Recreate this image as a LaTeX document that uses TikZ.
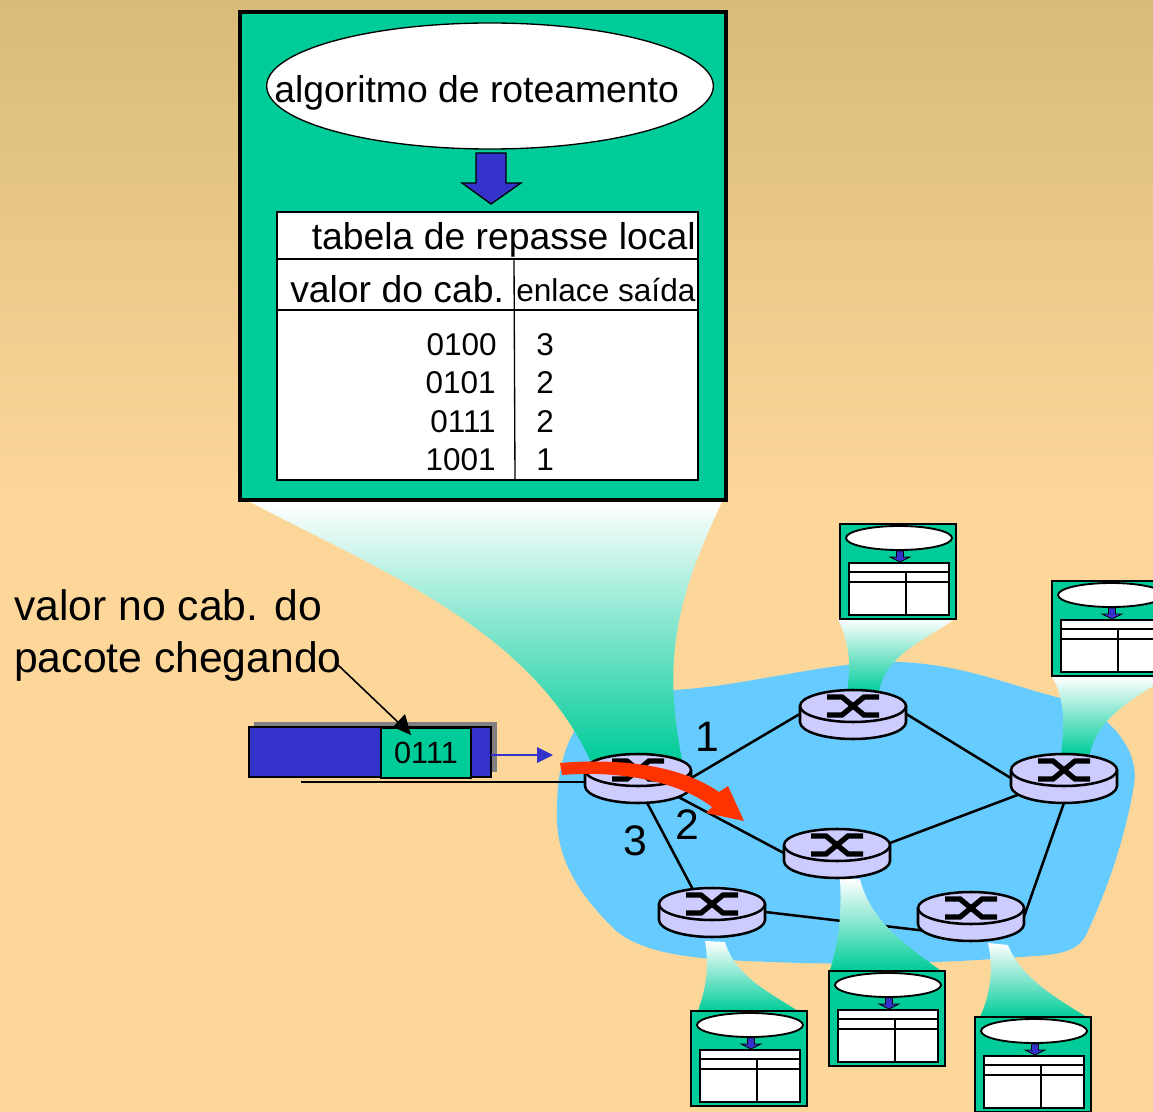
\documentclass[tikz,border=0pt]{standalone}
\usepackage{fontspec}
\setmainfont{Liberation Sans}
\usetikzlibrary{shapes.geometric}
\definecolor{tantop}{HTML}{D8BB78}
\definecolor{tanlow}{HTML}{FDD79A}
\definecolor{cloudblue}{HTML}{66CCFF}
\definecolor{boxgreen}{HTML}{00CC99}
\definecolor{darkblue}{HTML}{3333CC}
\definecolor{routerfill}{HTML}{CCCCFF}
\definecolor{flowred}{HTML}{FF3300}
\tikzset{
  bigtxt/.style={inner sep=0pt,font=\fontsize{28}{34}\selectfont},
  numtxt/.style={inner sep=0pt,font=\fontsize{23.6}{29}\selectfont},
  linktxt/.style={inner sep=0pt,font=\fontsize{32}{39}\selectfont},
  routernode/.style={ellipse,inner sep=0pt,minimum width=79.5pt,minimum height=36.75pt},
  routerline/.style={draw=black,line width=1.9pt,fill=routerfill},
  link/.style={line width=1.9pt},
  beam/.style={top color=white,bottom color=boxgreen},
  greenbox/.style={draw=black,fill=boxgreen},
  tablebox/.style={draw=black,fill=white},
  blockarrow/.style={draw=black,fill=darkblue,line join=miter},
}
% one router, #1 is the centre of its top face
\newcommand{\routerat}[1]{
\begin{scope}[shift={(#1)}]
\draw [routerline] (-53,0) -- (-53,16) arc[start angle=180,end angle=0,x radius=53,y radius=17] -- (53,0) ;
\draw [routerline] (0,0) ellipse (53 and 16) ;
\draw [line width=4pt] (-26,-9) -- (-11,-9) -- (11,9) -- (26,9) ;
\draw [line width=4pt] (-26,9) -- (-11,9) -- (11,-9) -- (26,-9) ;
\end{scope}
}
% small copy of the box, #1 is its top left corner
\newcommand{\smallbox}[1]{
\begin{scope}[shift={(#1)}]
\draw [greenbox,line width=1.7pt] (0,0) rectangle (116,95) ;
\draw [tablebox,line width=1.4pt] (59,14) ellipse (53 and 12) ;
\draw [blockarrow,line width=0.6pt] (56.5,27) -- (63.5,27) -- (63.5,33) -- (70,33) -- (60,38) -- (50,33) -- (56.5,33) -- cycle ;
\draw [tablebox,line width=1.7pt] (9,39) rectangle (109,91) ;
\draw [line width=1.4pt] (9,48) -- (109,48) ;
\draw [line width=1.4pt] (9,58) -- (109,58) ;
\draw [line width=1.4pt] (66,48) -- (66,91) ;
\end{scope}
}
\begin{document}
\begin{tikzpicture}[x=0.75pt,y=0.75pt,yscale=-1,xscale=1]
\clip (0,0) rectangle (1153,1112);
%Background
\fill [tanlow] (0,0) rectangle (1153,1112);
\shade [top color=tantop,bottom color=tanlow] (0,0) rectangle (1153,500);
%Cloud
\fill [cloudblue] (640,690) .. controls (720,695) and (820,660) .. (900,662) .. controls (970,665) and (1020,690) .. (1070,700) .. controls (1110,715) and (1140,750) .. (1134,785) .. controls (1125,840) and (1105,895) .. (1086,935) .. controls (1076,955) and (1050,955) .. (1020,957) .. controls (960,962) and (880,965) .. (800,963) .. controls (720,960) and (650,960) .. (615,930) .. controls (580,895) and (555,860) .. (557,810) .. controls (557,760) and (570,700) .. (640,690) -- cycle ;

%Router positions
\node [routernode] (rleft) at (638,778) {};
\node [routernode] (rtop) at (853,714) {};
\node [routernode] (rright) at (1064,778) {};
\node [routernode] (rmid) at (837,853) {};
\node [routernode] (rlow) at (712,912) {};
\node [routernode] (rdown) at (971,916) {};
\coordinate (inlink) at (301,782);

%Straight Lines
\draw [link] (rleft.east) -- (rtop.west) ;
\draw [link] (rtop.east) -- (rright.west) ;
\draw [link] (rleft.south east) -- (rmid.west) ;
\draw [link] (rright.200) -- (rmid.10) ;
\draw [link] (rright.south) -- (rdown.east) ;
\draw [link] (rleft.-70) -- (rlow.130) ;
\draw [link] (rlow.east) -- (rdown.200) ;
\draw [line width=1.2pt] (inlink) -- (inlink -| rleft.west) ;

%Curve Lines
\shade [beam] (250,502) .. controls (380,570) and (530,630) .. (590,760) -- (682,760) .. controls (665,670) and (670,610) .. (722,502) -- cycle ;
\shade [beam] (838,619) .. controls (852,650) and (850,670) .. (847,692) -- (879,692) .. controls (885,655) and (925,640) .. (955,619) -- cycle ;
\shade [beam] (1052,677) .. controls (1066,700) and (1064,730) .. (1061,754) -- (1090,754) .. controls (1096,720) and (1130,700) .. (1168,677) -- cycle ;
\shade [beam] (840,879) .. controls (842,915) and (838,945) .. (830,970) -- (940,970) .. controls (905,945) and (870,920) .. (860,879) -- cycle ;
\shade [beam] (705,941) .. controls (710,970) and (705,990) .. (698,1011) -- (798,1011) .. controls (765,990) and (735,975) .. (725,942) -- cycle ;
\shade [beam] (988,943) .. controls (994,970) and (990,995) .. (980,1017) -- (1087,1017) .. controls (1050,995) and (1020,975) .. (1008,945) -- cycle ;

%Big box
\draw [greenbox,line width=3pt] (240,12) rectangle (726,500) ;
\node [ellipse,draw=black,fill=white,line width=1pt,minimum width=335pt,minimum height=94.5pt] (algo) at (490,86) {};
\draw [blockarrow,line width=1pt] (476,153) -- (506,153) -- (506,183) -- (521,183) -- (491,204) -- (462,183) -- (476,183) -- cycle ;
\draw [tablebox,line width=1pt] (277,212) rectangle (698,480) ;
\draw [line width=1pt] (277,259) -- (698,259) ;
\draw [line width=1pt] (277,310) -- (698,310) ;
\draw [line width=1pt] (514,259) -- (515,480) ;

%Small boxes
\smallbox{840,524}
\smallbox{1052,581}
\smallbox{691,1011}
\smallbox{829,971}
\smallbox{975,1017}

%Routers
\routerat{638,770}
\routerat{853,706}
\routerat{1064,770}
\routerat{837,845}
\routerat{712,904}
\routerat{971,908}

%Forwarding arrow
\fill [flowred] (560,763) .. controls (620,758) and (680,765) .. (719,792) -- (728,786) -- (744,821) -- (706,813) -- (712,807) .. controls (680,782) and (620,770) .. (562,775) -- cycle ;

%Packet
\fill [gray] (254,722) rectangle (497,772) ;
\draw [fill=darkblue,line width=1.2pt] (249,727) rectangle (491,777) ;
\node [greenbox,line width=1.2pt,minimum width=67.5pt,minimum height=37.5pt,inner sep=0pt,font=\fontsize{23}{28}\selectfont] (valbox) at (426,753) {0111};
\coordinate (pktout) at (491,755);
\coordinate (pktin) at (553,755);
\draw [darkblue,line width=1.2pt] (pktout) -- (538,755) ;
\fill [darkblue] (pktin) -- (537,747) -- (537,763) -- cycle ;

% Text Node
\node [anchor=west,inner sep=0pt,align=left,font=\fontsize{32}{39}\selectfont] (hdrval) at (14,635) {valor no cab. do\\pacote chegando};
\coordinate (hdrend) at (338,665);
\coordinate (hdrtip) at (411,735);
\draw [line width=1.2pt] (hdrend) -- (402,726) ;
\fill (hdrtip) -- (393,727) -- (405,714) -- cycle ;
% Text Node
\node [bigtxt,anchor=west] (algotxt) at (274,93) {algoritmo de roteamento};
\node [bigtxt,anchor=east] (titletxt) at (696,240) {tabela de repasse local};
\node [bigtxt,anchor=west] (cabtxt) at (290,289) {valor do cab.};
\node [anchor=west,inner sep=0pt,font=\fontsize{23.7}{29}\selectfont] (enlacetxt) at (516,290) {enlace saída};
% Text Node
\node [numtxt,anchor=east] (vala) at (497,345) {0100};
\node [numtxt,anchor=east] (valb) at (496,383) {0101};
\node [numtxt,anchor=east] (valc) at (496,422) {0111};
\node [numtxt,anchor=east] (vald) at (496,460) {1001};
\node [numtxt] (outa) at (545,345) {3};
\node [numtxt] (outb) at (545,383) {2};
\node [numtxt] (outc) at (545,422) {2};
\node [numtxt] (outd) at (545,460) {1};
% Text Node
\node [linktxt] (linka) at (707,737) {1};
\node [linktxt] (linkb) at (687,825) {2};
\node [linktxt] (linkc) at (635,841) {3};
\end{tikzpicture}
\end{document}
